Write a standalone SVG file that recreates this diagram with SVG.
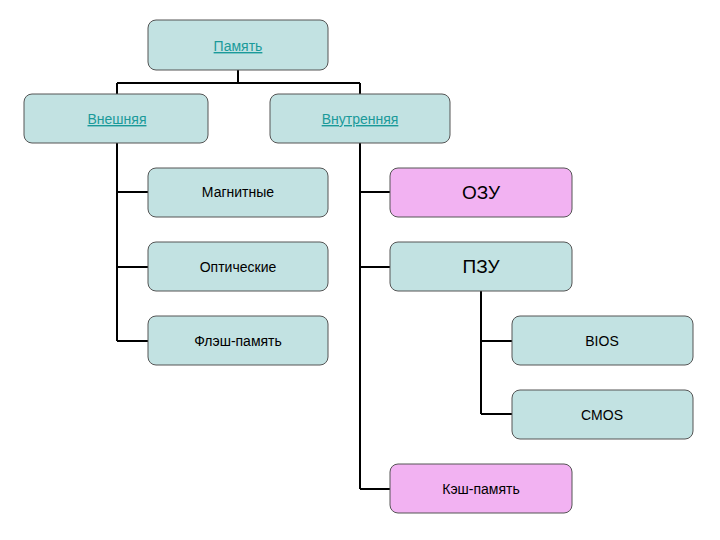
<svg xmlns="http://www.w3.org/2000/svg" width="720" height="540" viewBox="0 0 720 540">
<style>
.b{fill:#c2e2e2;stroke:#555;stroke-width:1}
.p{fill:#f2b2f2;stroke:#555;stroke-width:1}
text{font-family:"Liberation Sans",Arial,sans-serif;font-size:14px;text-anchor:middle;fill:#000}
.l{fill:#1a9a9a;text-decoration:underline}
.big{font-size:19px}
#c path{fill:none;stroke:#000;stroke-width:2}
</style>
<rect width="720" height="540" fill="#fff"/>
<g id="c">
<path d="M238 70V83M117 83H360M117 83V94M360 83V94"/>
<path d="M117 143V341M117 192H148M117 267H148M117 341H148"/>
<path d="M360 143V489M360 192H390M360 267H390M360 489H390"/>
<path d="M481 291V414M481 341H512M481 414H512"/>
</g>
<g id="pamyat"><rect class="b" x="148" y="20" width="180" height="50" rx="8"/><text class="l" x="238" y="51">Память</text></g>
<g id="vneshnyaya"><rect class="b" x="24" y="94" width="184" height="49" rx="8"/><text class="l" x="117" y="124">Внешняя</text></g>
<g id="vnutrennyaya"><rect class="b" x="270" y="94" width="180" height="49" rx="8"/><text class="l" x="360" y="124">Внутренняя</text></g>
<g id="magn"><rect class="b" x="148" y="168" width="180" height="49" rx="8"/><text x="238" y="197">Магнитные</text></g>
<g id="opt"><rect class="b" x="148" y="242" width="180" height="49" rx="8"/><text x="238" y="272">Оптические</text></g>
<g id="flash"><rect class="b" x="148" y="316" width="180" height="49" rx="8"/><text x="238" y="346">Флэш-память</text></g>
<g id="ozu"><rect class="p" x="390" y="168" width="182" height="49" rx="8"/><text class="big" x="481" y="199">ОЗУ</text></g>
<g id="pzu"><rect class="b" x="390" y="242" width="182" height="49" rx="8"/><text class="big" x="481" y="273">ПЗУ</text></g>
<g id="bios"><rect class="b" x="512" y="316" width="181" height="49" rx="8"/><text x="602" y="346">BIOS</text></g>
<g id="cmos"><rect class="b" x="512" y="390" width="181" height="49" rx="8"/><text x="602" y="420">CMOS</text></g>
<g id="kesh"><rect class="p" x="390" y="464" width="182" height="49" rx="8"/><text x="481" y="494">Кэш-память</text></g>
</svg>
